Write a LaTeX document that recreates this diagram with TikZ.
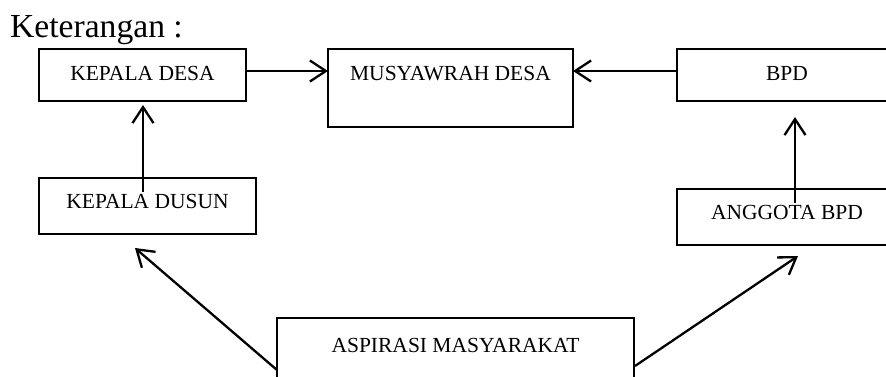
\documentclass[tikz,border=0pt]{standalone}
\usepackage{fontspec}
\setmainfont{Liberation Serif}
\usetikzlibrary{arrows.meta}
\begin{document}
\begin{tikzpicture}[x=1pt,y=-1pt,
  boxline/.style={draw=black,line width=2.3pt,inner sep=0pt,outer sep=0pt,rectangle},
  boxtext/.style={font=\fontsize{21.5}{23}\selectfont,anchor=base,inner sep=0pt},
  arr/.style={line width=2.3pt,-{Straight Barb[length=16pt,width=21pt,line width=2.3pt]}}]
\useasboundingbox (0,0) rectangle (886,376);
\node[anchor=base west,inner sep=0pt,font=\fontsize{33.6}{36}\selectfont] (ket) at (10,37) {Keterangan :};
% boxes
\node[boxline,minimum width=207pt,minimum height=52pt] (kd) at (142.5,75) {};
\node[boxline,minimum width=245pt,minimum height=78pt] (md) at (450.5,88) {};
\node[boxline,minimum width=220pt,minimum height=52pt] (bpd) at (787,75) {};
\node[boxline,minimum width=217pt,minimum height=56pt] (kdu) at (147.5,206) {};
\node[boxline,minimum width=220pt,minimum height=56pt] (abpd) at (787,217) {};
\node[boxline,minimum width=357pt,minimum height=82pt] (asp) at (455.5,359) {};
% texts
\node[boxtext] (kdt) at (142.5,80) {KEPALA DESA};
\node[boxtext] (mdt) at (450.5,80) {MUSYAWRAH DESA};
\node[boxtext] (bpdt) at (787,80) {BPD};
\node[boxtext] (kdut) at (147.5,208) {KEPALA DUSUN};
\node[boxtext] (abpdt) at (787,219) {ANGGOTA BPD};
\node[boxtext] (aspt) at (455.5,352) {ASPIRASI MASYARAKAT};
% connector end points
\coordinate (kduIn) at (143,192);
\coordinate (kdS) at (143,105);
\coordinate (abpdIn) at (795,203);
\coordinate (bpdS) at (795,117);
\coordinate (aspL) at (277,370);
\coordinate (kduTip) at (135,248);
\coordinate (aspR) at (635,366);
\coordinate (abpdTip) at (798,256);
% arrows
\draw[arr] (kd.east |- 0,71) -- (md.west |- 0,71);
\draw[arr] (bpd.west |- 0,71) -- (md.east |- 0,71);
\draw[arr] (kduIn) -- (kdS);
\draw[arr] (abpdIn) -- (bpdS);
\draw[arr] (aspL) -- (kduTip);
\draw[arr] (aspR) -- (abpdTip);
\end{tikzpicture}
\end{document}
